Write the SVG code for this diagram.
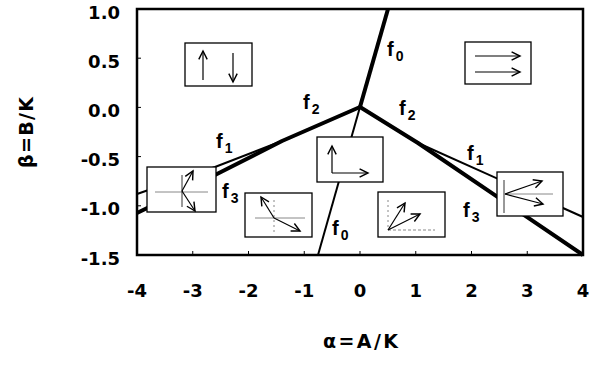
<svg xmlns="http://www.w3.org/2000/svg" width="595" height="369" viewBox="0 0 595 369">
<style>
.t{font-family:"Liberation Sans",Arial,sans-serif;font-weight:bold;fill:#000}
.tick{font-family:"DejaVu Sans",sans-serif;font-size:18px}
.ax{font-family:"DejaVu Sans",sans-serif;font-size:19px}
.f{font-size:20px}
.thick{stroke:#000;stroke-width:4;fill:none;stroke-linejoin:round}
.thin{stroke:#000;stroke-width:2;fill:none}
.box{fill:#fff;stroke:#000;stroke-width:1.3}
.arr{stroke:#000;stroke-width:1.2;fill:none;marker-end:url(#ah)}
.g{stroke:#888;stroke-width:1;fill:none}
.d{stroke:#333;stroke-width:1;fill:none}
</style>
<defs>
<marker id="ah" markerUnits="userSpaceOnUse" markerWidth="12" markerHeight="12" refX="0" refY="0" viewBox="-8 -5 10 10" orient="auto" overflow="visible">
<path d="M-7,-3.5 L0,0 L-7,3.5" fill="none" stroke="#000" stroke-width="1.2"/>
</marker>
</defs>
<rect width="595" height="369" fill="#fff"/>
<g id="axes">
<rect x="137" y="9" width="446" height="246" fill="none" stroke="#000" stroke-width="2.5"/>
<g stroke="#000" stroke-width="1">
<line x1="192.75" y1="255" x2="192.75" y2="251"/><line x1="248.5" y1="255" x2="248.5" y2="251"/><line x1="304.25" y1="255" x2="304.25" y2="251"/><line x1="360" y1="255" x2="360" y2="251"/><line x1="415.75" y1="255" x2="415.75" y2="251"/><line x1="471.5" y1="255" x2="471.5" y2="251"/><line x1="527.25" y1="255" x2="527.25" y2="251"/>
<line x1="137" y1="58.2" x2="141" y2="58.2"/><line x1="137" y1="107.4" x2="141" y2="107.4"/><line x1="137" y1="156.6" x2="141" y2="156.6"/><line x1="137" y1="205.8" x2="141" y2="205.8"/>
</g>
<g class="t tick" text-anchor="end">
<text x="120" y="19">1.0</text><text x="120" y="68">0.5</text><text x="120" y="117">0.0</text><text x="120" y="166">-0.5</text><text x="120" y="215">-1.0</text><text x="120" y="265">-1.5</text>
</g>
<g class="t tick" text-anchor="middle">
<text x="137" y="297">-4</text><text x="192.75" y="297">-3</text><text x="248.5" y="297">-2</text><text x="304.25" y="297">-1</text><text x="360" y="297">0</text><text x="415.75" y="297">1</text><text x="471.5" y="297">2</text><text x="527.25" y="297">3</text><text x="583" y="297">4</text>
</g>
<text class="t ax" x="323" y="348" textLength="75" lengthAdjust="spacing">α=A/K</text>
<text class="t ax" transform="translate(33,168) rotate(-90)" textLength="71" lengthAdjust="spacing">β=B/K</text>
</g>
<g id="connectors">
<line class="thick" x1="360" y1="107" x2="388" y2="9"/>
<line class="thin" x1="360" y1="107" x2="318" y2="255"/>
<polyline class="thick" points="360,107 282,141 215,175 137,213"/>
<polyline class="thin" points="282,141 215,167 137,194"/>
<polyline class="thick" points="360,107 418,143 583,255"/>
<polyline class="thin" points="418,143 583,217"/>
</g>
<g id="labels" class="t f">
<text x="387" y="56">f<tspan dx="2" dy="5" font-size="14">0</tspan></text>
<text x="303" y="109">f<tspan dx="2" dy="5" font-size="14">2</tspan></text>
<text x="399" y="115">f<tspan dx="2" dy="5" font-size="14">2</tspan></text>
<text x="467" y="160">f<tspan dx="2" dy="5" font-size="14">1</tspan></text>
<text x="463" y="217">f<tspan dx="2" dy="5" font-size="14">3</tspan></text>
<text x="332" y="235">f<tspan dx="2" dy="5" font-size="14">0</tspan></text>
<text x="216" y="148">f<tspan dx="2" dy="5" font-size="14">1</tspan></text>
<text x="222" y="198">f<tspan dx="2" dy="5" font-size="14">3</tspan></text>
</g>
<g id="inset-updown">
<rect class="box" x="185" y="43" width="67" height="43"/>
<line class="arr" x1="203" y1="80" x2="203" y2="51"/>
<line class="arr" x1="233" y1="53" x2="233" y2="82"/>
</g>
<g id="inset-parallel">
<rect class="box" x="465" y="42" width="66" height="42"/>
<line class="arr" x1="475" y1="56" x2="520" y2="56"/>
<line class="arr" x1="475" y1="72" x2="520" y2="72"/>
</g>
<g id="inset-left">
<rect class="box" x="147" y="167" width="69" height="45"/>
<line class="g" x1="155" y1="192" x2="208" y2="192"/>
<line class="d" x1="182" y1="175" x2="182" y2="207"/>
<line class="arr" x1="182" y1="191" x2="193" y2="171"/>
<line class="arr" x1="182" y1="191" x2="195" y2="211"/>
</g>
<g id="inset-canted-left">
<rect class="box" x="245" y="193" width="67" height="44"/>
<line class="g" x1="255" y1="218" x2="305" y2="218"/>
<line class="g" x1="274" y1="200" x2="274" y2="235" stroke-dasharray="2,3"/>
<line class="arr" x1="274" y1="218" x2="261" y2="197"/>
<line class="arr" x1="274" y1="218" x2="300" y2="231"/>
</g>
<g id="inset-center">
<rect class="box" x="317" y="137" width="66" height="45"/>
<line class="arr" x1="332" y1="173" x2="332" y2="146"/>
<line class="arr" x1="332" y1="173" x2="368" y2="173"/>
</g>
<g id="inset-canted-right">
<rect class="box" x="378" y="192" width="67" height="45"/>
<line class="g" x1="388" y1="230" x2="435" y2="230" stroke-dasharray="3,2"/>
<line class="g" x1="388" y1="200" x2="388" y2="230" stroke-dasharray="2,3"/>
<line class="arr" x1="388" y1="230" x2="405" y2="203"/>
<line class="arr" x1="388" y1="230" x2="420" y2="214"/>
</g>
<g id="inset-right">
<rect class="box" x="497" y="172" width="66" height="44"/>
<line class="d" x1="504" y1="180" x2="504" y2="213"/>
<line class="g" x1="504" y1="194" x2="553" y2="194"/>
<line class="arr" x1="505" y1="194" x2="542" y2="181"/>
<line class="arr" x1="505" y1="194" x2="543" y2="204"/>
</g>
</svg>
